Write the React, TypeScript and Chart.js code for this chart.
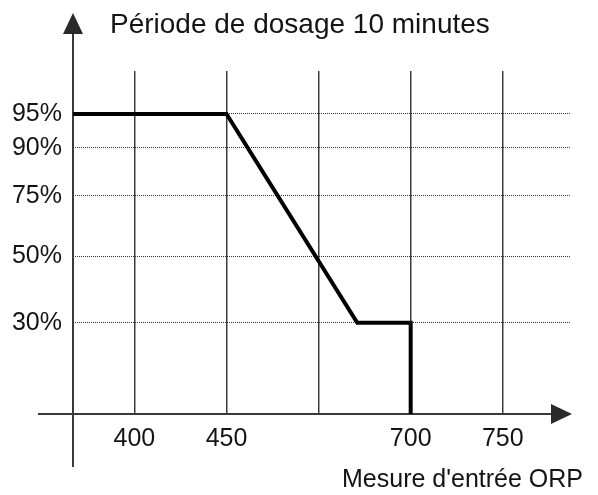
import React, { useEffect, useRef } from "react";
import { Chart, registerables, LinearScale } from "chart.js";

Chart.register(...registerables);

// Schematic x positions (gridline index) and their ORP labels
const xTickValues = [1, 2, 3, 4, 5];
const xTickLabels = ["400", "450", "", "700", "750"];
const xMin = 1 / 3;
const xMax = 5.73;

// Dosing percentage ticks
const yTickValues = [30, 50, 75, 90, 95];
const yMin = 0;
const yMax = 113;

// Dosing curve
const curveX = [xMin, 2, 3.42, 4, 4];
const curveY = [95, 95, 30, 30, 0];

const titleText = "Période de dosage 10 minutes";
const xAxisText = "Mesure d'entrée ORP";

const FONT = "'Liberation Sans', Arial, sans-serif";
const TEXT = "#141414";
const AXIS = "#3a3a3a";

// A schematic (non-uniform) value axis: the drawing spaces its percentage
// levels unevenly, so the scale interpolates between anchor levels.
class SchematicScale extends LinearScale {
  static id = "schematic";
  static defaults = (LinearScale as any).defaults;

  _frac(value: number): number {
    const anchors: [number, number][] = (this.options as any).anchors;
    if (value <= anchors[0][0]) return anchors[0][1];
    for (let i = 1; i < anchors.length; i++) {
      const [v1, f1] = anchors[i];
      const [v0, f0] = anchors[i - 1];
      if (value <= v1) return f0 + ((value - v0) / (v1 - v0)) * (f1 - f0);
    }
    return anchors[anchors.length - 1][1];
  }

  getPixelForValue(value: number): number {
    const f = this._frac(Number(value));
    return (this as any).bottom - f * ((this as any).bottom - (this as any).top);
  }

  getValueForPixel(pixel: number): number {
    const anchors: [number, number][] = (this.options as any).anchors;
    const f = ((this as any).bottom - pixel) / ((this as any).bottom - (this as any).top);
    for (let i = 1; i < anchors.length; i++) {
      const [v1, f1] = anchors[i];
      const [v0, f0] = anchors[i - 1];
      if (f <= f1) return v0 + ((f - f0) / (f1 - f0)) * (v1 - v0);
    }
    return anchors[anchors.length - 1][0];
  }
}
Chart.register(SchematicScale as any);

const axesPlugin = {
  id: "schemaAxes",
  beforeDatasetsDraw(chart: any) {
    const { ctx, chartArea } = chart;
    const { left, bottom, top, right } = chartArea;
    ctx.save();
    ctx.strokeStyle = AXIS;
    ctx.fillStyle = "#2a2a2a";
    ctx.lineWidth = 2;
    // y axis with arrow
    ctx.beginPath();
    ctx.moveTo(left, top - 38);
    ctx.lineTo(left, bottom + 53);
    ctx.stroke();
    ctx.beginPath();
    ctx.moveTo(left, top - 58);
    ctx.lineTo(left - 10, top - 37);
    ctx.lineTo(left + 10, top - 37);
    ctx.closePath();
    ctx.fill();
    // x axis with arrow
    ctx.beginPath();
    ctx.moveTo(left - 35, bottom);
    ctx.lineTo(right - 18, bottom);
    ctx.stroke();
    ctx.beginPath();
    ctx.moveTo(right + 2, bottom);
    ctx.lineTo(right - 19, bottom - 10);
    ctx.lineTo(right - 19, bottom + 10);
    ctx.closePath();
    ctx.fill();
    ctx.restore();
  },
  afterDraw(chart: any) {
    const { ctx, chartArea } = chart;
    ctx.save();
    ctx.fillStyle = TEXT;
    ctx.textBaseline = "alphabetic";
    ctx.textAlign = "left";
    ctx.font = `28px ${FONT}`;
    ctx.fillText(titleText, chartArea.left + 37, chartArea.top - 38);
    ctx.textAlign = "right";
    ctx.font = `25px ${FONT}`;
    ctx.fillText(xAxisText, chartArea.right + 13, chartArea.bottom + 73);
    ctx.restore();
  },
};

export default function App() {
  const ref = useRef<HTMLCanvasElement | null>(null);

  useEffect(() => {
    document.body.style.margin = "0";
    const canvas = ref.current;
    if (!canvas) return;
    const chart = new Chart(canvas, {
      type: "scatter",
      data: {
        datasets: [
          {
            data: curveX.map((x, i) => ({ x, y: curveY[i] })),
            showLine: true,
            borderColor: "#000000",
            borderWidth: 4,
            pointRadius: 0,
            tension: 0,
            borderJoinStyle: "miter",
            clip: false,
          } as any,
        ],
      },
      options: {
        animation: false,
        responsive: false,
        devicePixelRatio: 1,
        events: [],
        layout: { padding: { top: 71, right: 28, left: 0, bottom: 0 } },
        plugins: {
          legend: { display: false },
          tooltip: { enabled: false },
          title: { display: false },
        },
        scales: {
          x: {
            type: "linear",
            min: xMin,
            max: xMax,
            afterBuildTicks: (scale: any) => {
              scale.ticks = xTickValues.map((v) => ({ value: v }));
            },
            afterFit: (scale: any) => {
              scale.height = 81;
            },
            grid: {
              color: "#3c3c3c",
              lineWidth: 1.5,
              drawTicks: false,
            },
            border: { display: false },
            ticks: {
              autoSkip: false,
              maxRotation: 0,
              padding: 10,
              color: TEXT,
              font: { family: FONT, size: 25 },
              callback: (value: any) => {
                const i = xTickValues.indexOf(Number(value));
                return i >= 0 ? xTickLabels[i] : "";
              },
            },
          },
          y: {
            type: "schematic",
            min: yMin,
            max: yMax,
            anchors: [
              [0, 0],
              [30, 0.266],
              [50, 0.459],
              [75, 0.636],
              [90, 0.776],
              [95, 0.875],
              [113, 1],
            ],
            afterBuildTicks: (scale: any) => {
              scale.ticks = yTickValues.map((v) => ({ value: v }));
            },
            afterFit: (scale: any) => {
              scale.width = 73;
            },
            grid: {
              color: "#333333",
              lineWidth: 1,
              drawTicks: false,
            },
            border: { display: false, dash: [1, 1] },
            ticks: {
              padding: 11,
              color: TEXT,
              font: { family: FONT, size: 25 },
              callback: (value: any) => `${value}%`,
            },
          } as any,
        },
      },
      plugins: [axesPlugin],
    });
    return () => chart.destroy();
  }, []);

  return (
    <div style={{ width: 598, height: 495, background: "#ffffff" }}>
      <canvas ref={ref} width={598} height={495} style={{ display: "block" }} />
    </div>
  );
}
